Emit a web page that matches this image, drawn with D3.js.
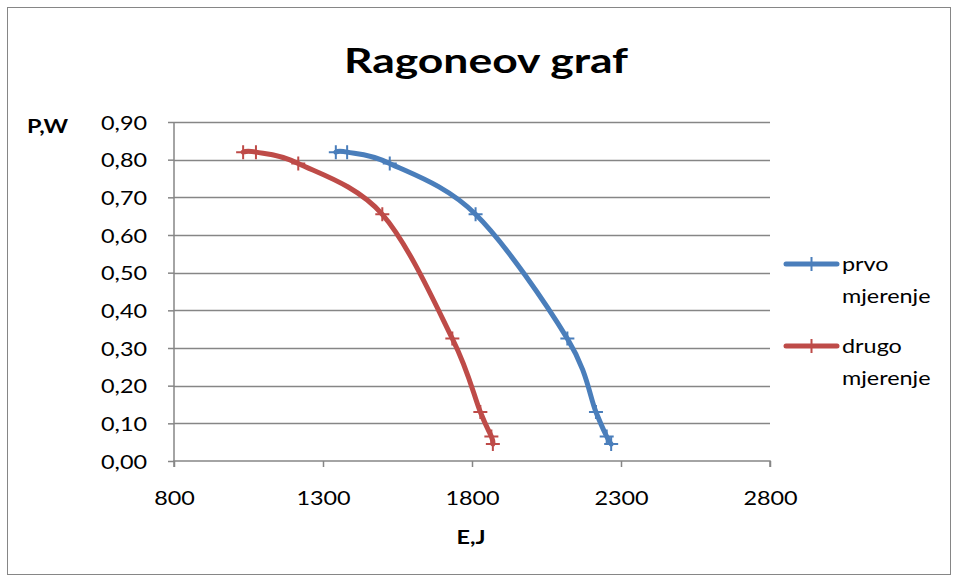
<!DOCTYPE html>
<html>
<head>
<meta charset="utf-8">
<script src="https://cdn.jsdelivr.net/npm/d3@7"></script>
<style>
  body { margin: 0; background: #fff; }
  text { font-family: Lato, sans-serif; fill: #000; }
</style>
</head>
<body>
<div id="chart"></div>
<script>
// DATA
var seriesNames = ["prvo mjerenje", "drugo mjerenje"];
var energyPrvo = [1343, 1381, 1524, 1812, 2120, 2216, 2252, 2267];
var powerPrvo = [0.82, 0.82, 0.79, 0.655, 0.325, 0.13, 0.065, 0.045];
var energyDrugo = [1032, 1075, 1217, 1499, 1734, 1828, 1865, 1870];
var powerDrugo = [0.82, 0.82, 0.79, 0.655, 0.325, 0.13, 0.065, 0.045];
var xTicks = [800, 1300, 1800, 2300, 2800];
var yTicks = [0, 0.1, 0.2, 0.3, 0.4, 0.5, 0.6, 0.7, 0.8, 0.9];
var colors = ["#4a7ebb", "#be4b48"];

var width = 958,
    height = 581;

var stretchK = 1.2;   // the original chart text is widened
var fontSize = "19.5px";

var svg = d3.select("#chart").append("svg")
    .attr("width", width)
    .attr("height", height);

// outer frame
svg.append("rect")
    .attr("x", 7.5).attr("y", 7.5)
    .attr("width", 943).attr("height", 567)
    .attr("fill", "none")
    .attr("stroke", "#868686")
    .attr("stroke-width", 1);

var x = d3.scaleLinear().domain([800, 2800]).range([174, 770]);
var y = d3.scaleLinear().domain([0, 0.9]).range([461, 122]);

var comma = d3.formatLocale({decimal: ",", thousands: ".", grouping: [3], currency: ["", ""]});

function stretch(sel, k) {
  sel.each(function() {
    var t = d3.select(this);
    var tx = +t.attr("x") || 0, ty = +t.attr("y") || 0;
    t.attr("x", 0).attr("y", 0)
     .attr("transform", "translate(" + tx + "," + ty + ") scale(" + k + ",1)");
  });
}

// GRIDLINES
svg.append("g").selectAll("line")
    .data(yTicks.filter(function(d) { return d > 0; }))
  .enter().append("line")
    .attr("x1", x(800)).attr("x2", x(2800))
    .attr("y1", function(d) { return Math.round(y(d)) + 0.5; })
    .attr("y2", function(d) { return Math.round(y(d)) + 0.5; })
    .attr("stroke", "#868686")
    .attr("stroke-width", 1.5);

// AXES
var yAxis = svg.append("g")
    .attr("transform", "translate(" + x(800) + ",0)")
    .call(d3.axisLeft(y).tickValues(yTicks).tickSize(6).tickPadding(21)
      .tickFormat(comma.format(".2f")));

var xAxis = svg.append("g")
    .attr("transform", "translate(0," + y(0) + ")")
    .call(d3.axisBottom(x).tickValues(xTicks).tickSize(6).tickPadding(0)
      .tickFormat(d3.format("d")));

[yAxis, xAxis].forEach(function(a) {
  a.select(".domain").attr("stroke", "#868686").attr("stroke-width", 1.5);
  a.selectAll(".tick line").attr("stroke", "#868686").attr("stroke-width", 1.5);
  a.selectAll(".tick text")
    .attr("fill", "#000")
    .style("font-family", "Lato, sans-serif")
    .style("font-size", fontSize);
});
xAxis.select(".domain").attr("d", "M" + x(800) + ",6V0H" + x(2800) + "V6");
yAxis.select(".domain").attr("d", "M0," + y(0.9) + "V" + y(0));

yAxis.selectAll(".tick text").attr("dy", "0.36em");
stretch(yAxis.selectAll(".tick text"), stretchK);
xAxis.selectAll(".tick text").attr("dy", 0).attr("y", 44);
stretch(xAxis.selectAll(".tick text"), stretchK);

// TITLES
var title = svg.append("text")
    .attr("x", 486).attr("y", 73)
    .attr("text-anchor", "middle")
    .style("font-size", "35px")
    .style("font-weight", "bold")
    .text("Ragoneov graf");
stretch(title, 1.27);

var yLabel = svg.append("text")
    .attr("x", 27).attr("y", 133)
    .style("font-size", fontSize)
    .style("font-weight", "bold")
    .text("P,W");
stretch(yLabel, stretchK);

var xLabel = svg.append("text")
    .attr("x", 471).attr("y", 544)
    .attr("text-anchor", "middle")
    .style("font-size", fontSize)
    .style("font-weight", "bold")
    .text("E,J");
stretch(xLabel, stretchK);

// SERIES
var series = [
  {name: seriesNames[0], color: colors[0], values: energyPrvo.map(function(e, i) { return [e, powerPrvo[i]]; })},
  {name: seriesNames[1], color: colors[1], values: energyDrugo.map(function(e, i) { return [e, powerDrugo[i]]; })}
];

var line = d3.line()
    .x(function(d) { return x(d[0]); })
    .y(function(d) { return y(d[1]); })
    .curve(d3.curveCardinal.tension(0));

function cross(g, cx, cy, color) {
  g.append("path")
    .attr("d", "M" + (cx - 7) + "," + cy + "H" + (cx + 7) + "M" + cx + "," + (cy - 7) + "V" + (cy + 7))
    .attr("stroke", color)
    .attr("stroke-width", 2)
    .attr("fill", "none");
}

series.forEach(function(s) {
  var g = svg.append("g");
  g.append("path")
    .attr("d", line(s.values))
    .attr("fill", "none")
    .attr("stroke", s.color)
    .attr("stroke-width", 5)
    .attr("stroke-linejoin", "round")
    .attr("stroke-linecap", "round");
  s.values.forEach(function(d) {
    cross(g, x(d[0]), y(d[1]), s.color);
  });
});

// LEGEND
var legendY = [264, 346];
series.forEach(function(s, i) {
  var g = svg.append("g");
  g.append("line")
    .attr("x1", 786).attr("x2", 837)
    .attr("y1", legendY[i]).attr("y2", legendY[i])
    .attr("stroke", s.color)
    .attr("stroke-width", 5)
    .attr("stroke-linecap", "round");
  cross(g, 811.5, legendY[i], s.color);
  s.name.split(" ").forEach(function(word, j) {
    var t = g.append("text")
      .attr("x", 842)
      .attr("y", legendY[i] + 7 + j * 32)
      .style("font-size", fontSize)
      .text(word);
    stretch(t, stretchK);
  });
});
</script>
</body>
</html>
